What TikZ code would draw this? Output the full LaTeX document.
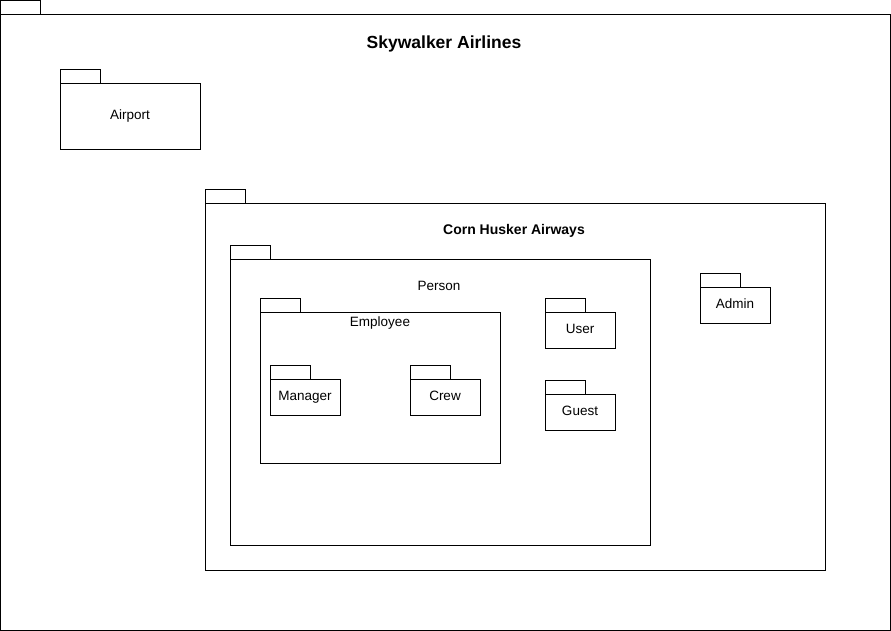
\documentclass[tikz,border=0pt]{standalone}
\usepackage{fontspec}
\setmainfont{Liberation Sans}
\usetikzlibrary{positioning}

\begin{document}
\begin{tikzpicture}
  [x=1pt, y=-1pt,
   package/.style={rectangle,draw,line width=1pt,anchor=north west,
                   inner sep=0pt,outer sep=0pt,text height=10pt,text depth=4pt,
                   font=\fontsize{13.5}{16}\selectfont},
   tab/.style={rectangle,draw,line width=1pt,inner sep=0pt,outer sep=0pt,
               minimum width=40pt,minimum height=14pt},
   title/.style={font=\bfseries\fontsize{14}{17}\selectfont},
   caption/.style={font=\fontsize{13.5}{16}\selectfont}]
   \useasboundingbox (0,0) rectangle (891,631);
   % packages, top left corner of each body
   \node[package,minimum width=889.5pt,minimum height=615.5pt] (skywalker) at (0.5,14.5) {};
   \node[package,minimum width=140pt,minimum height=66pt]    (airport)   at (60,84)   {Airport};
   \node[package,minimum width=620pt,minimum height=366pt]   (cornhusker) at (205,204) {};
   \node[package,minimum width=420pt,minimum height=286pt]   (person)    at (230,259) {};
   \node[package,minimum width=240pt,minimum height=151pt]   (employee)  at (260,312) {};
   \node[package,minimum width=70pt,minimum height=36pt]     (manager)   at (270,379) {Manager};
   \node[package,minimum width=70pt,minimum height=36pt]     (crew)      at (410,379) {Crew};
   \node[package,minimum width=70pt,minimum height=36pt]     (user)      at (545,312) {User};
   \node[package,minimum width=70pt,minimum height=36pt]     (guest)     at (545,394) {Guest};
   \node[package,minimum width=70pt,minimum height=36pt]     (admin)     at (700,287) {Admin};
   % tabs
   \foreach \pkg in {skywalker,airport,cornhusker,person,employee,
                     manager,crew,user,guest,admin}
     \node[tab] (\pkg tab) [above right=0pt and 0pt of \pkg.north west] {};
   % names of the containing packages
   \node[title,font=\bfseries\fontsize{17.5}{20}\selectfont] (skywalker name) at (444,43.5) {Skywalker Airlines};
   \node[title]   (cornhusker name) at (514,230.5) {Corn Husker Airways};
   \node[caption] (person name)     at (439,286) {Person};
   \node[caption] (employee name)   at (380,323) {Employee};
\end{tikzpicture}
\end{document}
